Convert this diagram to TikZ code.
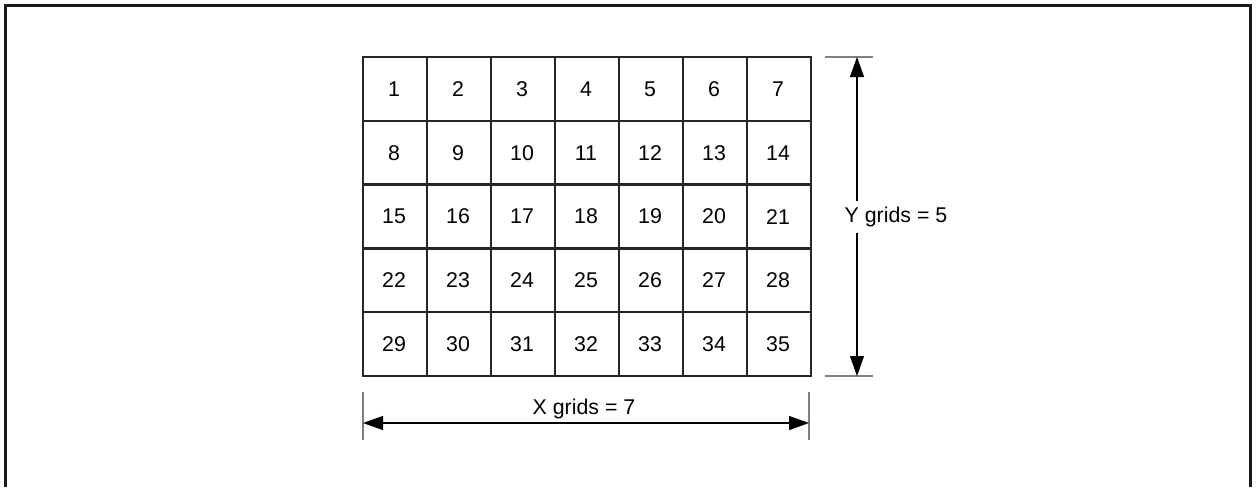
\documentclass[tikz,border=0pt]{standalone}
\usepackage{fontspec}
\setmainfont{Liberation Sans}
\usetikzlibrary{arrows.meta}
\begin{document}
\begin{tikzpicture}[x=0.75pt,y=-0.75pt,
  num/.style={font=\fontsize{16}{19}\selectfont, inner sep=0pt},
  lbl/.style={font=\fontsize{16}{19}\selectfont},
  gridline/.style={line width=1.8pt, draw=black!85},
  extline/.style={line width=0.8pt, draw=black!50},
  dimline/.style={line width=0.8pt, draw=black, -{Triangle[length=15pt,width=10.5pt]}},
]
\useasboundingbox (0,0) rectangle (1256,487);
% frame (open at bottom)
\draw[line width=2.2pt, black!90] (5.5,487) -- (5.5,5.5) -- (1250.5,5.5) -- (1250.5,487);
% grid
\foreach \i in {1,...,6} \draw[gridline] (363+64*\i,57) -- (363+64*\i,376);
\foreach \j in {1,...,4} \draw[gridline] (363,57+63.8*\j) -- (811,57+63.8*\j);
\draw[line width=2.2pt, black!85] (363,57) rectangle (811,376);
\foreach \r in {0,...,4} {
  \foreach \c in {0,...,6} {
    \pgfmathtruncatemacro{\n}{\r*7+\c+1}
    \node[num] (n\n) at (394+64*\c, 89+63.8*\r) {\n};
  }
}
% Y dimension
\coordinate (yt) at (857,57);
\coordinate (yb) at (857,376);
\draw[extline] (825,57) -- (873,57);
\draw[extline] (825,376) -- (873,376);
\draw[dimline] (857,218) -- (yt);
\draw[dimline] (857,218) -- (yb);
\node[lbl, fill=white, minimum width=107pt, minimum height=24pt, anchor=center] (ylab) at (896,217) {Y grids = 5};
% X dimension
\coordinate (xl) at (363,423);
\coordinate (xr) at (809,423);
\draw[extline] (363,392) -- (363,440);
\draw[extline] (809,392) -- (809,440);
\draw[dimline] (586,423) -- (xl);
\draw[dimline] (586,423) -- (xr);
\node[lbl] (xlab) at (584,409) {X grids = 7};
\end{tikzpicture}
\end{document}
